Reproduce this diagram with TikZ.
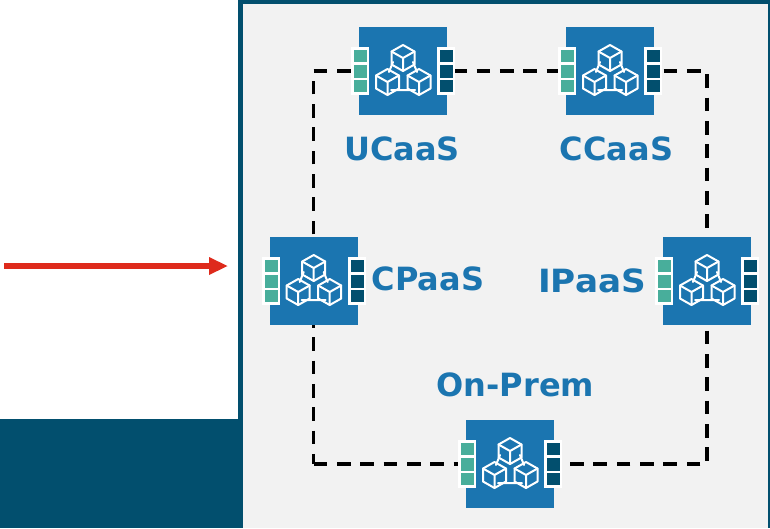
\documentclass[tikz,border=0pt]{standalone}
\usepackage{fontspec}
\setmainfont{DejaVu Sans}
\definecolor{navy}{HTML}{024F6E}
\definecolor{boxblue}{HTML}{1B75B0}
\definecolor{teal}{HTML}{48AE9B}
\definecolor{panel}{HTML}{F2F2F2}
\definecolor{arrowred}{HTML}{DE2A1C}
\tikzset{
 x=1pt,y=-1pt,
 unitbox/.style={fill=boxblue,minimum size=88pt,inner sep=0pt,outer sep=0pt},
 lbl/.style={text=boxblue,font=\bfseries\fontsize{32}{32}\selectfont,inner sep=0pt},
 link/.style={draw=black,line width=3.3pt,dash pattern=on 13.7pt off 9.63pt},
 pad/.style={fill=white},
 icon/.style={draw=white,line width=2pt,line join=round,line cap=round},
 cube/.pic={
  \draw[icon] (0,-13)--(11.5,-6.5)--(11.5,6.5)--(0,13)--(-11.5,6.5)--(-11.5,-6.5)--cycle;
  \draw[icon] (-11.5,-6.5)--(0,0)--(11.5,-6.5) (0,0)--(0,13);
 },
 unitdeco/.pic={
  \fill[pad] (-52,-24) rectangle (-34,24);
  \fill[pad] (34,-24) rectangle (52,24);
  \foreach \a/\b in {-21/-9,-6/7,9/21}{
   \fill[teal] (-49,\a) rectangle (-36,\b);
   \fill[navy] (37,\a) rectangle (50,\b);
  }
  \pic at (0,-13) {cube};
  \pic at (-15.5,11) {cube};
  \pic at (16,11) {cube};
  \draw[icon] (-10,-9)--(-14,1) (10,-9)--(14,1) (-12,19)--(12,19);
 }
}
\begin{document}
\begin{tikzpicture}
\useasboundingbox (0,0) rectangle (770,528);
\fill[white] (0,0) rectangle (770,528);
\fill[navy] (0,419) rectangle (240,528);
\fill[panel] (240,0) rectangle (770,528);
\fill[navy] (238,0) rectangle (243,528);
\fill[navy] (238,0) rectangle (770,4);
\fill[navy] (767.5,0) rectangle (770,528);
\node[unitbox] (ucaas) at (403,71) {};
\node[unitbox] (ccaas) at (610,71) {};
\node[unitbox] (cpaas) at (313.7,281) {};
\node[unitbox] (ipaas) at (707,281) {};
\node[unitbox] (onprem) at (510,464) {};
\coordinate (start) at (4,266);
\coordinate (end) at (227.5,266);
\coordinate (corner) at (cpaas.south |- onprem.west);
\draw[link,dash phase=20.6pt] (cpaas.north) |- (ucaas.west);
\draw[link,dash phase=17pt] (ucaas.east) -- (ccaas.west);
\draw[link,dash phase=13.7pt] (ccaas.east) -| (ipaas.north);
\draw[link,dash phase=17.6pt] (ipaas.south) |- (onprem.east);
\draw[link,dash phase=11pt] (cpaas.south) -- (corner);
\draw[link] (corner) -- (onprem.west);
\foreach \n in {ucaas,ccaas,cpaas,ipaas,onprem}{
 \node[unitbox] at (\n) {};
 \pic at (\n) {unitdeco};
}
\draw[arrowred,line width=6pt] (start) -- (212,266);
\fill[arrowred] (end) -- (209,257) -- (209,275) -- cycle;
\node[lbl] (t1) at (402,148.5) {UCaaS};
\node[lbl] (t2) at (616.5,148.5) {CCaaS};
\node[lbl] (t3) at (428,279) {CPaaS};
\node[lbl,xscale=1.07] (t4) at (592,281) {IPaaS};
\node[lbl] (t5) at (515.5,385) {On-Prem};
\end{tikzpicture}
\end{document}
